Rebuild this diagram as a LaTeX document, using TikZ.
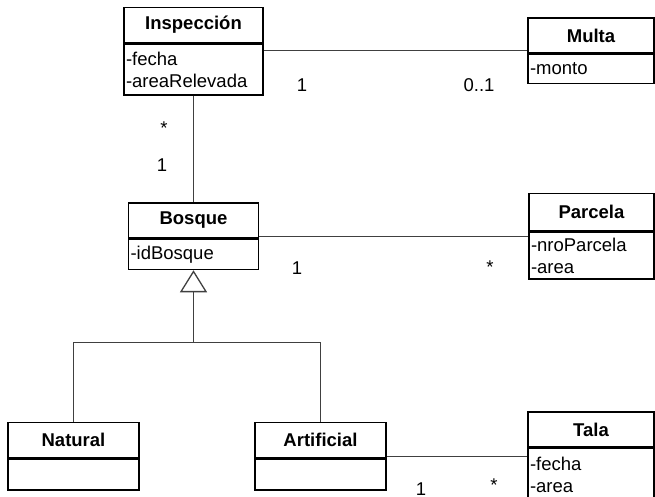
\documentclass[tikz,border=0pt]{standalone}
\usepackage{fontspec}
\setmainfont{Liberation Sans}
\usetikzlibrary{arrows.meta, positioning}
\tikzset{
  cls head/.style={
    rectangle, draw=black, line width=1.5pt,
    minimum height=35pt, inner sep=0pt,
    font=\fontsize{18.5}{22}\selectfont\bfseries
  },
  cls body/.style={
    rectangle, draw=black, line width=1.5pt,
    text width=#1, inner xsep=2pt, inner ysep=0pt,
    align=left, font=\fontsize{18.5}{22}\selectfont
  },
  assoc line/.style={
    draw=black!75, line width=0.9pt
  },
  gen arrow/.style={
    assoc line, -{Triangle[open, length=22pt, width=27pt, line width=1.3pt]}
  },
  mult label/.style={
    font=\fontsize{18.5}{22}\selectfont, inner sep=0pt
  }
}

\begin{document}
\begin{tikzpicture}[x=1pt, y=-1pt]
  \useasboundingbox (0,0) rectangle (655,496);

  % classes
  \node (insp) [cls head, minimum width=139pt] at (193.5,25) {Inspección};
  \node (inspAt) [cls body=135pt, minimum height=51pt, below=0pt of insp] {-fecha\\-areaRelevada};

  \node (multa) [cls head, minimum width=126pt] at (591,35.5) {Multa};
  \node (multaAt) [cls body=122pt, minimum height=29pt, below=0pt of multa] {-monto};

  \node (bosque) [cls head, minimum width=130pt] at (193.5,220.5) {Bosque};
  \node (bosqueAt) [cls body=126pt, minimum height=30pt, below=0pt of bosque] {-idBosque};

  \node (parcela) [cls head, minimum width=125pt, minimum height=37pt] at (591.5,212) {Parcela};
  \node (parcelaAt) [cls body=121pt, minimum height=47pt, below=0pt of parcela] {-nroParcela\\-area};

  \node (natural) [cls head, minimum width=131pt] at (73.5,440) {Natural};
  \node (naturalAt) [cls body=127pt, minimum height=31pt, below=0pt of natural] {};

  \node (artif) [cls head, minimum width=131pt] at (320.5,440) {Artificial};
  \node (artifAt) [cls body=127pt, minimum height=31pt, below=0pt of artif] {};

  \node (tala) [cls head, minimum width=126pt] at (591,429.5) {Tala};
  \node (talaAt) [cls body=122pt, minimum height=52pt, below=0pt of tala] {-fecha\\-area};

  % associations
  \draw [assoc line] (inspAt.north east) ++(0,7) coordinate (c1) -- (c1 -| multa.west);
  \draw [assoc line] (inspAt.south) -- (bosque.north);
  \draw [assoc line] (bosque.south east) ++(0,-2) coordinate (c2) -- (c2 -| parcelaAt.west);
  \draw [assoc line] (artif.south east) ++(0,-2) coordinate (c3) -- (c3 -| talaAt.west);

  % generalization
  \path (bosqueAt.south) ++(0,72) coordinate (gj);
  \draw [assoc line] (natural.north) |- (gj) -| (artif.north);
  \draw [gen arrow] (gj) -- (bosqueAt.south);

  % multiplicities
  \node (m1) [mult label] at (302,85) {1};
  \node (m2) [mult label] at (479,85) {0..1};
  \node (m3) [mult label] at (164,128) {*};
  \node (m4) [mult label] at (162,165) {1};
  \node (m5) [mult label] at (297,268) {1};
  \node (m6) [mult label] at (490,267) {*};
  \node (m7) [mult label] at (421,489) {1};
  \node (m8) [mult label] at (494,485) {*};
\end{tikzpicture}
\end{document}
